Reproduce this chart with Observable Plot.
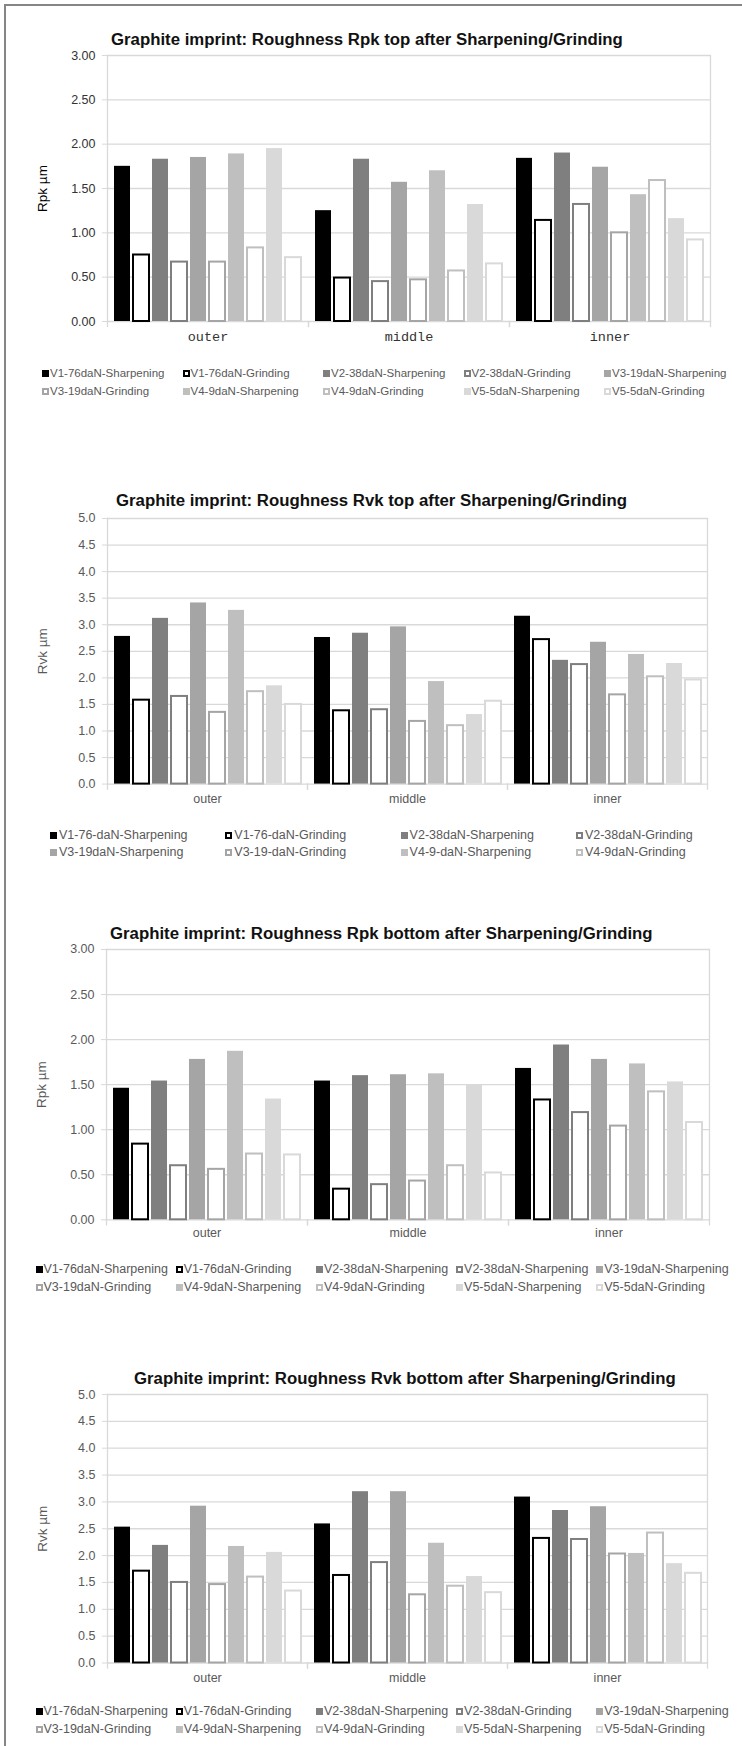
<!DOCTYPE html>
<html><head><meta charset="utf-8">
<script src="https://cdn.jsdelivr.net/npm/d3@7"></script>
<script src="https://cdn.jsdelivr.net/npm/@observablehq/plot@0.6"></script>
<style>
body{margin:0;background:#fff;}
#page{position:relative;width:742px;height:1746px;overflow:hidden;font-family:"Liberation Sans",Arial,sans-serif;background:#fff;}
#border{position:absolute;left:4px;top:4px;width:780px;height:1780px;border-top:2px solid #858585;border-left:2px solid #858585;}
.title{position:absolute;font-weight:bold;font-size:16.8px;line-height:20px;height:20px;white-space:nowrap;color:#111;z-index:3;}
.psvg{position:absolute;left:0;z-index:1;}
.legend{position:absolute;display:grid;z-index:2;}
.item{display:flex;align-items:center;white-space:nowrap;color:#595959;}
.sw{display:inline-block;box-sizing:border-box;width:7px;height:7px;flex:none;}
</style>
</head>
<body>
<div id="page"><div id="border"></div></div>
<script>
// ---------- data ----------
const categories = ["outer", "middle", "inner"];
const seriesKeys = ["V1-S", "V1-G", "V2-S", "V2-G", "V3-S", "V3-G", "V4-S", "V4-G", "V5-S", "V5-G"];
const seriesKinds = ["S", "G", "S", "G", "S", "G", "S", "G", "S", "G"];
const seriesColors = ["#000000", "#000000", "#7f7f7f", "#7f7f7f", "#a5a5a5", "#a5a5a5", "#bfbfbf", "#bfbfbf", "#d9d9d9", "#d9d9d9"];

// Rpk top (µm)
const rpkTopOuter  = [1.75, 0.75, 1.83, 0.67, 1.85, 0.67, 1.89, 0.83, 1.95, 0.72];
const rpkTopMiddle = [1.25, 0.49, 1.83, 0.45, 1.57, 0.47, 1.70, 0.57, 1.32, 0.65];
const rpkTopInner  = [1.84, 1.14, 1.90, 1.32, 1.74, 1.00, 1.43, 1.59, 1.16, 0.92];
// Rvk top (µm)
const rvkTopOuter  = [2.78, 1.58, 3.12, 1.65, 3.41, 1.35, 3.27, 1.74, 1.85, 1.50];
const rvkTopMiddle = [2.76, 1.38, 2.84, 1.40, 2.96, 1.18, 1.93, 1.10, 1.31, 1.56];
const rvkTopInner  = [3.16, 2.72, 2.33, 2.25, 2.67, 1.68, 2.44, 2.02, 2.27, 1.96];
// Rpk bottom (µm)
const rpkBottomOuter  = [1.46, 0.84, 1.54, 0.60, 1.78, 0.56, 1.87, 0.73, 1.34, 0.72];
const rpkBottomMiddle = [1.54, 0.34, 1.60, 0.39, 1.61, 0.43, 1.62, 0.60, 1.49, 0.52];
const rpkBottomInner  = [1.68, 1.33, 1.94, 1.19, 1.78, 1.04, 1.73, 1.42, 1.53, 1.08];
// Rvk bottom (µm)
const rvkBottomOuter  = [2.53, 1.71, 2.19, 1.50, 2.92, 1.46, 2.17, 1.60, 2.06, 1.34];
const rvkBottomMiddle = [2.59, 1.63, 3.19, 1.87, 3.19, 1.27, 2.23, 1.43, 1.61, 1.31];
const rvkBottomInner  = [3.09, 2.32, 2.84, 2.30, 2.91, 2.03, 2.04, 2.42, 1.85, 1.67];

const legendRpkTop = ["V1-76daN-Sharpening", "V1-76daN-Grinding", "V2-38daN-Sharpening", "V2-38daN-Grinding", "V3-19daN-Sharpening",
  "V3-19daN-Grinding", "V4-9daN-Sharpening", "V4-9daN-Grinding", "V5-5daN-Sharpening", "V5-5daN-Grinding"];
const legendRvkTop = ["V1-76-daN-Sharpening", "V1-76-daN-Grinding", "V2-38daN-Sharpening", "V2-38daN-Grinding",
  "V3-19daN-Sharpening", "V3-19-daN-Grinding", "V4-9-daN-Sharpening", "V4-9daN-Grinding"];
const legendRpkBottom = ["V1-76daN-Sharpening", "V1-76daN-Grinding", "V2-38daN-Sharpening", "V2-38daN-Sharpening", "V3-19daN-Sharpening",
  "V3-19daN-Grinding", "V4-9daN-Sharpening", "V4-9daN-Grinding", "V5-5daN-Sharpening", "V5-5daN-Grinding"];
const legendRvkBottom = ["V1-76daN-Sharpening", "V1-76daN-Grinding", "V2-38daN-Sharpening", "V2-38daN-Grinding", "V3-19daN-Sharpening",
  "V3-19daN-Grinding", "V4-9daN-Sharpening", "V4-9daN-Grinding", "V5-5daN-Sharpening", "V5-5daN-Grinding"];

const ticks3 = [0, 0.5, 1, 1.5, 2, 2.5, 3];
const ticks5 = [0, 0.5, 1, 1.5, 2, 2.5, 3, 3.5, 4, 4.5, 5];

const titles = [
  "Graphite imprint: Roughness Rpk top after Sharpening/Grinding",
  "Graphite imprint: Roughness Rvk top after Sharpening/Grinding",
  "Graphite imprint: Roughness Rpk bottom after Sharpening/Grinding",
  "Graphite imprint: Roughness Rvk bottom after Sharpening/Grinding"
];

// ---------- layout ----------
const panels = [
  {title: titles[0], values: [rpkTopOuter, rpkTopMiddle, rpkTopInner], legend: legendRpkTop, ticks: ticks3, fmt: ".2f", label: "Rpk µm",
   titleLeft: 111, titleY: 40, plotTop: 55, H: 266, ml: 106, mr: 32, tickColor: "#333", labelColor: "#000",
   fxFont: "Liberation Mono, Courier New, monospace", fxSize: 13.5, fxColor: "#333", fxPad: 10,
   lgLeft: 42, lgTop: 364, lgCols: 5, lgColW: 140.5, lgRowH: 18, lgSize: 11.5, lgGap: 1},
  {title: titles[1], values: [rvkTopOuter, rvkTopMiddle, rvkTopInner], legend: legendRvkTop, ticks: ticks5, fmt: ".1f", label: "Rvk µm",
   titleLeft: 116, titleY: 500.7, plotTop: 517.7, H: 265.6, ml: 106, mr: 34, tickColor: "#595959", labelColor: "#595959",
   fxFont: "Liberation Sans, Arial, sans-serif", fxSize: 12.5, fxColor: "#595959", fxPad: 10,
   lgLeft: 50, lgTop: 827, lgCols: 4, lgColW: 175.3, lgRowH: 16.7, lgSize: 12.5, lgGap: 2},
  {title: titles[2], values: [rpkBottomOuter, rpkBottomMiddle, rpkBottomInner], legend: legendRpkBottom, ticks: ticks3, fmt: ".2f", label: "Rpk µm",
   titleLeft: 110, titleY: 934, plotTop: 948.7, H: 270.3, ml: 105, mr: 32, tickColor: "#595959", labelColor: "#595959",
   fxFont: "Liberation Sans, Arial, sans-serif", fxSize: 12.5, fxColor: "#595959", fxPad: 8,
   lgLeft: 35.5, lgTop: 1260, lgCols: 5, lgColW: 140.2, lgRowH: 18, lgSize: 12.5, lgGap: 1},
  {title: titles[3], values: [rvkBottomOuter, rvkBottomMiddle, rvkBottomInner], legend: legendRvkBottom, ticks: ticks5, fmt: ".1f", label: "Rvk µm",
   titleLeft: 134, titleY: 1379, plotTop: 1393.7, H: 268.5, ml: 106, mr: 34.5, tickColor: "#595959", labelColor: "#595959",
   fxFont: "Liberation Sans, Arial, sans-serif", fxSize: 12.5, fxColor: "#595959", fxPad: 10,
   lgLeft: 35.5, lgTop: 1702, lgCols: 5, lgColW: 140.2, lgRowH: 18, lgSize: 12.5, lgGap: 1}
];

const page = document.getElementById("page");
const grid = "#d9d9d9";

for (const cfg of panels) {
  const rows = [];
  cfg.values.forEach((vals, ci) => vals.forEach((v, si) => rows.push({
    cat: categories[ci], series: seriesKeys[si], kind: seriesKinds[si], color: seriesColors[si], value: v
  })));
  const mt = 10, mb = 36;
  const yMax = cfg.ticks[cfg.ticks.length - 1];
  const plot = Plot.plot({
    width: 742,
    height: mt + cfg.H + mb,
    marginTop: mt, marginBottom: mb, marginLeft: cfg.ml, marginRight: cfg.mr,
    style: {fontFamily: "Liberation Sans, Arial, sans-serif", fontSize: "12.5px", background: "transparent", overflow: "visible"},
    fx: {domain: categories, padding: 0, label: null},
    x: {domain: seriesKeys, paddingInner: 0.18, paddingOuter: 0.26, axis: null},
    y: {domain: [0, yMax]},
    marks: [
      Plot.gridY(cfg.ticks, {stroke: grid, strokeOpacity: 1, strokeWidth: 1.3}),
      Plot.frame({anchor: "left", facet: "super", stroke: grid, strokeWidth: 1.3}),
      Plot.frame({anchor: "right", facet: "super", stroke: grid, strokeWidth: 1.3}),
      Plot.frame({anchor: "left", stroke: grid, strokeWidth: 1.3, insetTop: cfg.H, insetBottom: -5}),
      Plot.frame({anchor: "right", stroke: grid, strokeWidth: 1.3, insetTop: cfg.H, insetBottom: -5}),
      Plot.barY(rows.filter(d => d.kind === "S"), {fx: "cat", x: "series", y: "value", fill: "color"}),
      Plot.barY(rows.filter(d => d.kind === "G"), {fx: "cat", x: "series", y: "value", fill: "white", stroke: "color", strokeWidth: 2}),
      Plot.axisY({ticks: cfg.ticks, tickFormat: cfg.fmt, tickSize: 5, tickPadding: 7, stroke: grid, fill: cfg.tickColor, label: null, fontSize: 12.5}),
      Plot.axisY({ticks: [], label: cfg.label, labelArrow: false, labelAnchor: "center", labelOffset: 70, fill: cfg.labelColor, fontSize: 13.5}),
      Plot.axisFx({anchor: "bottom", tickSize: 0, tickPadding: cfg.fxPad, label: null, fill: cfg.fxColor, fontFamily: cfg.fxFont, fontSize: cfg.fxSize})
    ]
  });
  plot.classList.add("psvg");
  plot.style.top = (cfg.plotTop - mt) + "px";
  page.appendChild(plot);

  const t = document.createElement("div");
  t.className = "title";
  t.textContent = cfg.title;
  t.style.left = cfg.titleLeft + "px";
  t.style.top = (cfg.titleY - 10) + "px";
  page.appendChild(t);

  const lg = document.createElement("div");
  lg.className = "legend";
  lg.style.left = cfg.lgLeft + "px";
  lg.style.top = cfg.lgTop + "px";
  lg.style.gridTemplateColumns = `repeat(${cfg.lgCols}, ${cfg.lgColW}px)`;
  lg.style.gridAutoRows = cfg.lgRowH + "px";
  lg.style.fontSize = cfg.lgSize + "px";
  cfg.legend.forEach((name, j) => {
    const it = document.createElement("div");
    it.className = "item";
    const sw = document.createElement("span");
    sw.className = "sw";
    sw.style.marginRight = cfg.lgGap + "px";
    if (seriesKinds[j] === "S") sw.style.background = seriesColors[j];
    else { sw.style.background = "#fff"; sw.style.border = "2px solid " + seriesColors[j]; }
    it.appendChild(sw);
    const tx = document.createElement("span");
    tx.textContent = name;
    it.appendChild(tx);
    lg.appendChild(it);
  });
  page.appendChild(lg);
}
</script>
</body></html>
